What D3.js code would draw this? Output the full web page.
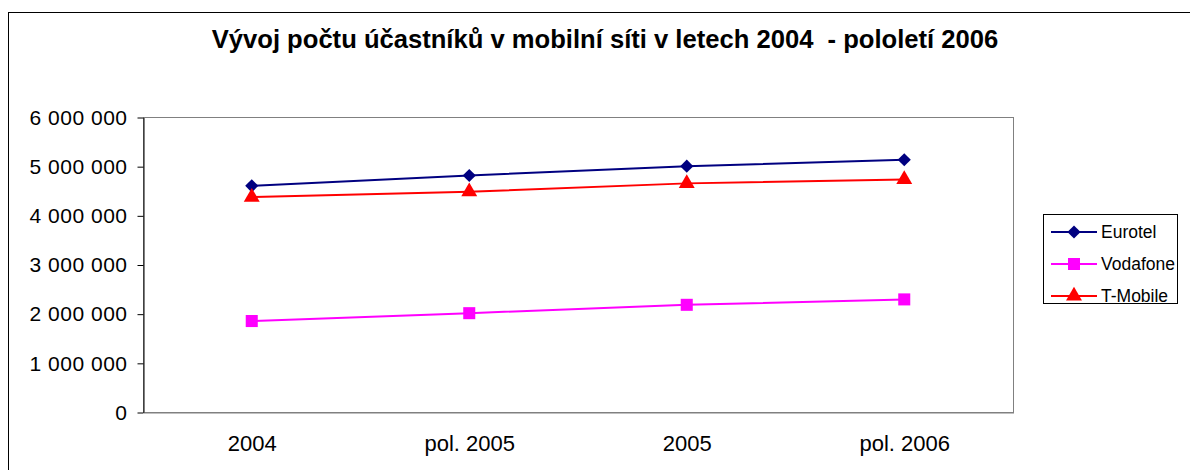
<!DOCTYPE html>
<html>
<head>
<meta charset="utf-8">
<script src="https://cdn.jsdelivr.net/npm/d3@7"></script>
<style>
  body { margin: 0; background: #fff; }
  svg { font-family: 'Liberation Sans', Arial, sans-serif; }
</style>
</head>
<body>
<svg width="1190" height="470"></svg>
<script>
// data
const categories = ['2004', 'pol. 2005', '2005', 'pol. 2006'];
const eurotel = [4600000, 4810000, 5000000, 5130000];
const vodafone = [1850000, 2010000, 2180000, 2290000];
const tmobile = [4370000, 4480000, 4650000, 4730000];
const yTicks = [0, 1000000, 2000000, 3000000, 4000000, 5000000, 6000000];

const series = [
  { name: 'Eurotel', values: eurotel, color: '#000080', shape: 'diamond' },
  { name: 'Vodafone', values: vodafone, color: '#FF00FF', shape: 'square' },
  { name: 'T-Mobile', values: tmobile, color: '#FF0000', shape: 'triangle' }
];

const svg = d3.select('svg');
const plot = { left: 143, right: 1013, top: 117, bottom: 412 };

// outer frame
svg.append('rect')
  .attr('x', 8.5).attr('y', 12.5)
  .attr('width', 1200).attr('height', 480)
  .attr('fill', 'none').attr('stroke', '#000').attr('stroke-width', 1);

// title
svg.append('text')
  .attr('x', 605).attr('y', 48)
  .attr('text-anchor', 'middle')
  .attr('font-size', 25.6).attr('font-weight', 'bold')
  .style('white-space', 'pre')
  .text('Vývoj počtu účastníků v mobilní síti v letech 2004  - pololetí 2006');

const x = d3.scaleBand().domain(categories).range([plot.left, plot.right]);
const y = d3.scaleLinear().domain([0, 6000000]).range([plot.bottom, plot.top]);

// plot area border
svg.append('rect')
  .attr('x', plot.left + 0.5).attr('y', plot.top + 0.5)
  .attr('width', plot.right - plot.left).attr('height', plot.bottom - plot.top)
  .attr('fill', 'none').attr('stroke', '#808080');

const fmt = (d) => d3.format(',')(d).replace(/,/g, ' ');

// y axis
const yAxis = svg.append('g')
  .attr('transform', `translate(${plot.left + 0.5},0.5)`)
  .call(d3.axisLeft(y).tickValues(yTicks).tickFormat(fmt).tickSize(6).tickSizeOuter(0).tickPadding(10));
yAxis.attr('font-family', null).attr('font-size', 21);
yAxis.select('.domain').attr('stroke', '#000');
yAxis.selectAll('text').attr('fill', '#000').attr('letter-spacing', 0.5);

// x axis
const xAxis = svg.append('g')
  .attr('transform', `translate(0.5,${plot.bottom + 0.5})`)
  .call(d3.axisBottom(x).tickSize(0).tickPadding(23));
xAxis.attr('font-family', null).attr('font-size', 22);
xAxis.select('.domain').attr('stroke', '#808080');
xAxis.selectAll('text').attr('fill', '#000');

const symbols = {
  diamond: d3.symbol().type(d3.symbolDiamond2).size(110),
  square: d3.symbol().type(d3.symbolSquare).size(145),
  triangle: d3.symbol().type(d3.symbolTriangle).size(110)
};
const cx = (c) => x(c) + x.bandwidth() / 2;

const line = d3.line()
  .x((d, i) => cx(categories[i]))
  .y((d) => y(d));

series.forEach((s) => {
  svg.append('path')
    .datum(s.values)
    .attr('d', line)
    .attr('fill', 'none')
    .attr('stroke', s.color)
    .attr('stroke-width', 2);

  svg.append('g')
    .selectAll('path')
    .data(s.values)
    .join('path')
    .attr('d', symbols[s.shape])
    .attr('transform', (d, i) => `translate(${cx(categories[i])},${y(d)})`)
    .attr('fill', s.color);
});

// legend
const legend = svg.append('g');
legend.append('rect')
  .attr('x', 1043.5).attr('y', 214.5)
  .attr('width', 134).attr('height', 89)
  .attr('fill', '#fff').attr('stroke', '#000');

series.forEach((s, i) => {
  const ly = 232 + i * 32;
  legend.append('line')
    .attr('x1', 1051).attr('x2', 1097)
    .attr('y1', ly).attr('y2', ly)
    .attr('stroke', s.color).attr('stroke-width', 2);
  legend.append('path')
    .attr('d', symbols[s.shape])
    .attr('transform', `translate(1074,${ly})`)
    .attr('fill', s.color);
  legend.append('text')
    .attr('x', 1101).attr('y', ly + 6)
    .attr('font-size', 17.5)
    .text(s.name);
});
</script>
</body>
</html>
